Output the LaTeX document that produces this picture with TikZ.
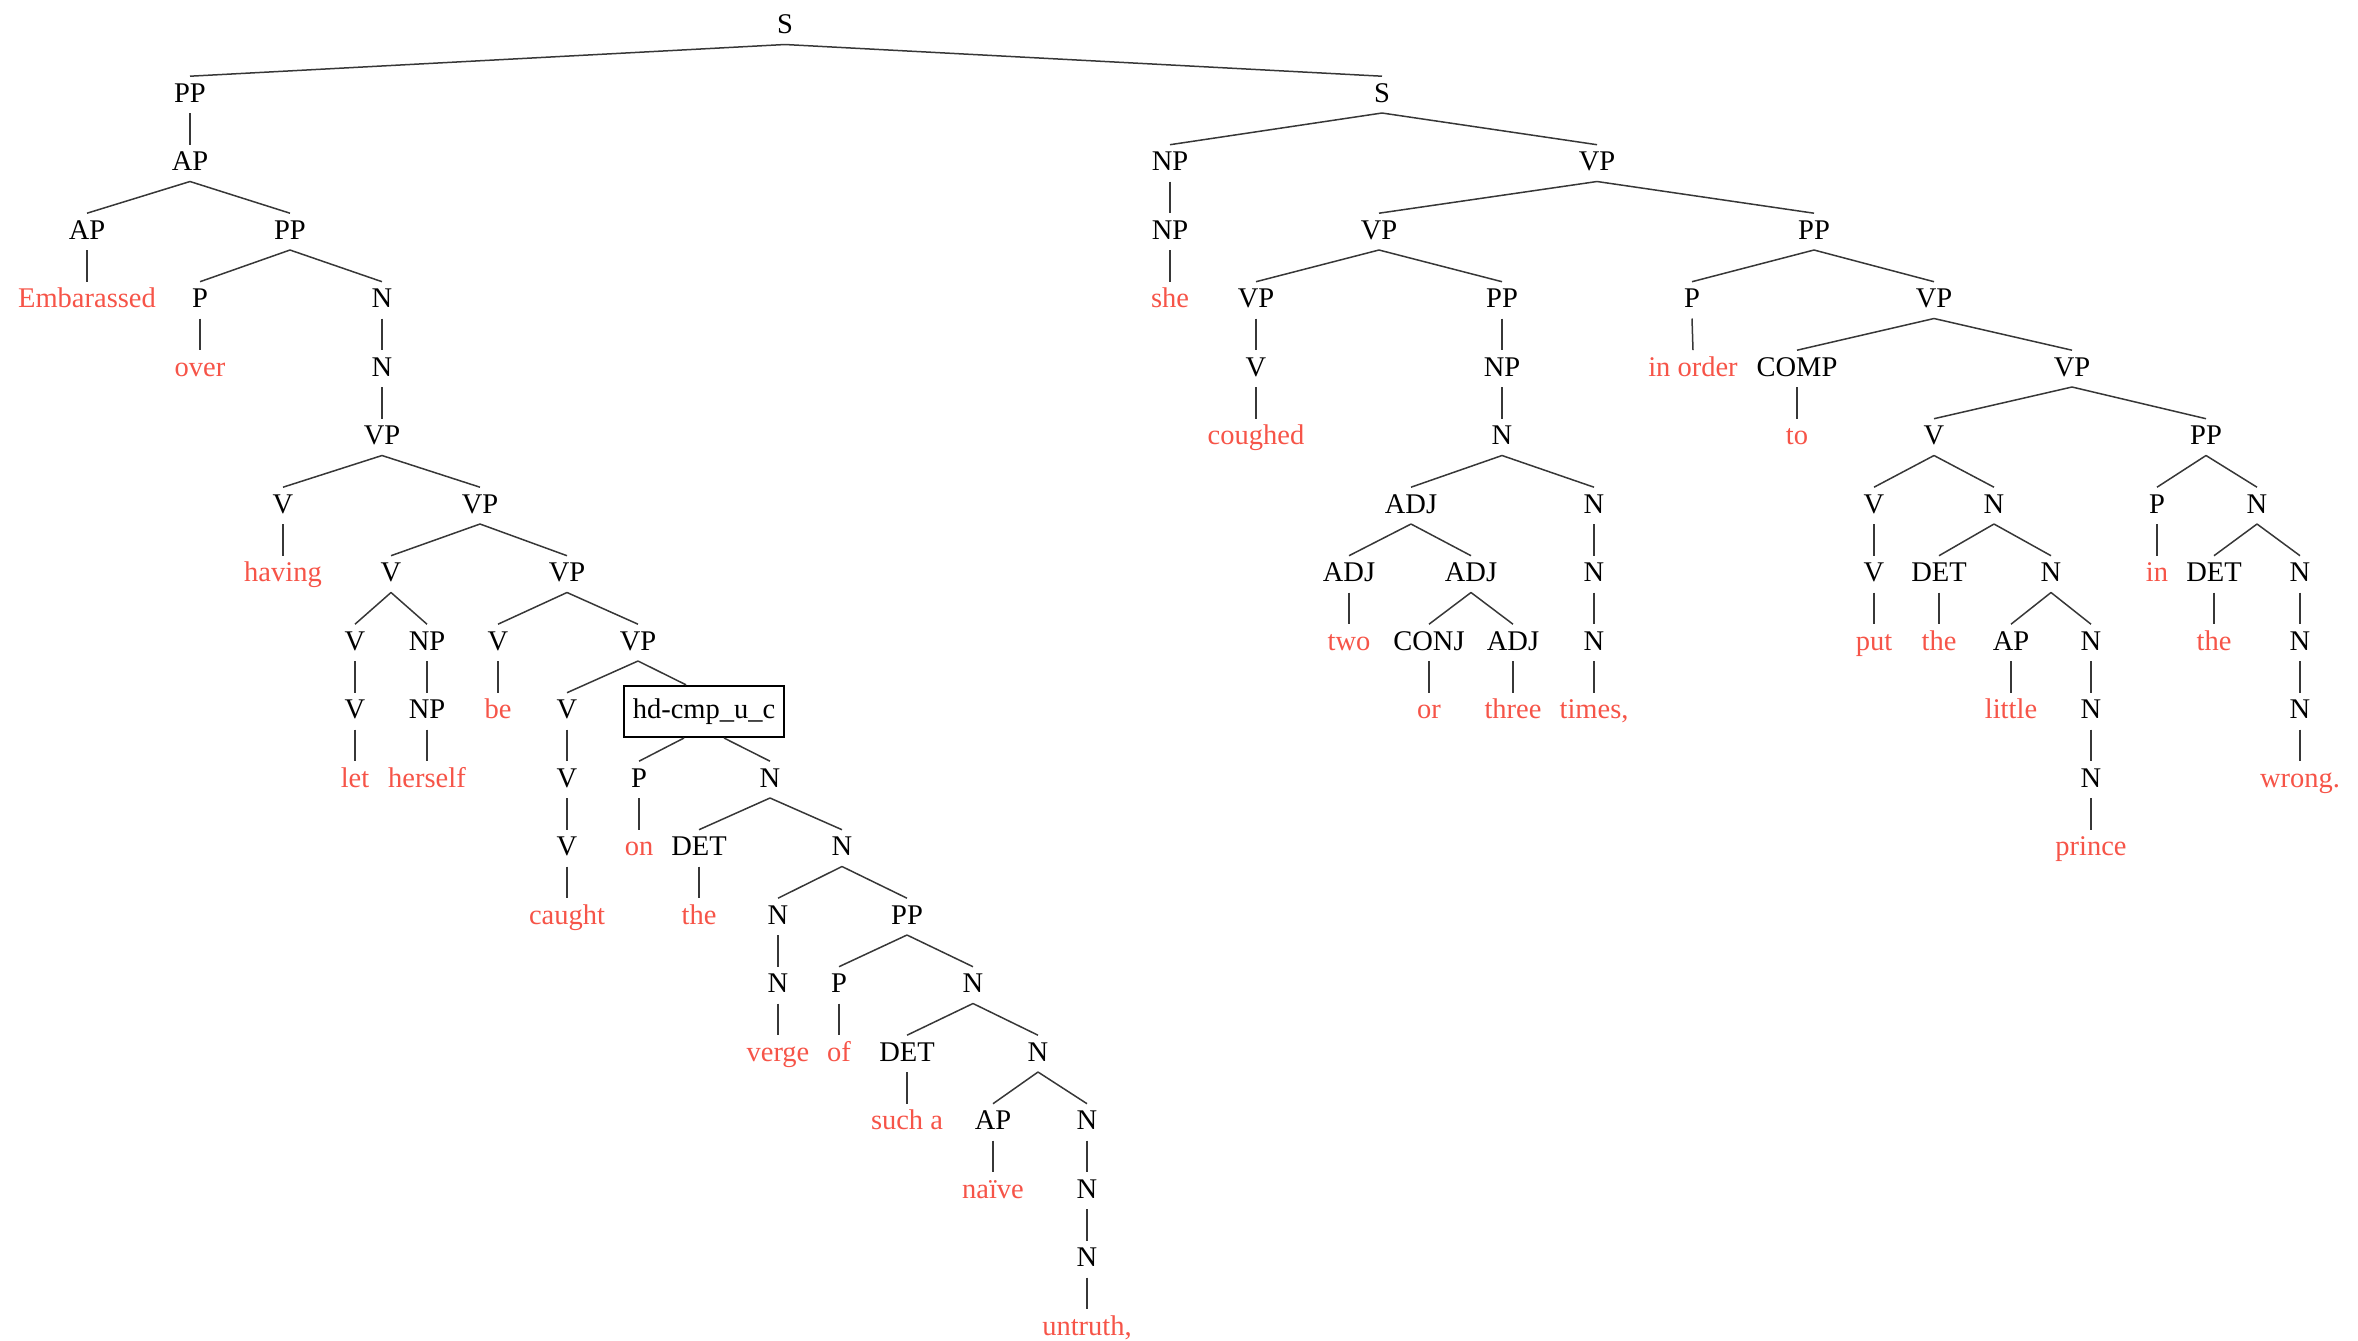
\documentclass[tikz,border=0pt]{standalone}
\usepackage{fontspec}
\usetikzlibrary{calc}
\setmainfont{Liberation Serif}
\definecolor{wordred}{RGB}{246,84,72}
\definecolor{edgegray}{RGB}{55,55,55}
\tikzset{
  cat/.style={anchor=base, inner xsep=1pt, inner ysep=3.3pt, text height=9.4pt, text depth=2pt, font=\fontsize{14.25}{17}\selectfont},
  word/.style={cat, text=wordred},
  rulebox/.style={cat, draw, line width=1.1pt, inner xsep=4.5pt, inner ysep=6.3pt, text height=10pt, text depth=2.9pt},
  branch/.style={draw=edgegray, line width=0.75pt}
}
\begin{document}
\begin{tikzpicture}[x=0.5pt, y=-34.25pt]
  \useasboundingbox (0,0) rectangle (2358,19.562);
  \begin{scope}[yshift=-16.75pt]
    % root
    \node [cat] (s) at (785,0) {S};
    % left part
    \node [cat] (pp) at (190,1) {PP};
    \node [cat] (ap) at (190,2) {AP};
    \node [cat] (apa) at (87,3) {AP};
    \node [word] (emb) at (87,4) {Embarassed};
    \node [cat] (ppa) at (290,3) {PP};
    \node [cat] (pa) at (200,4) {P};
    \node [word] (over) at (200,5) {over};
    \node [cat] (na) at (382,4) {N};
    \node [cat] (nb) at (382,5) {N};
    \node [cat] (vpa) at (382,6) {VP};
    \node [cat] (va) at (283,7) {V};
    \node [word] (having) at (283,8) {having};
    \node [cat] (vpb) at (480,7) {VP};
    \node [cat] (vb) at (391,8) {V};
    \node [cat] (vc) at (355,9) {V};
    \node [cat] (vd) at (355,10) {V};
    \node [word] (let) at (355,11) {let};
    \node [cat] (npa) at (427,9) {NP};
    \node [cat] (npb) at (427,10) {NP};
    \node [word] (herself) at (427,11) {herself};
    \node [cat] (vpc) at (567,8) {VP};
    \node [cat] (ve) at (498,9) {V};
    \node [word] (be) at (498,10) {be};
    \node [cat] (vpd) at (638,9) {VP};
    \node [cat] (vf) at (567,10) {V};
    \node [cat] (vg) at (567,11) {V};
    \node [cat] (vh) at (567,12) {V};
    \node [word] (caught) at (567,13) {caught};
    \node [rulebox] (hd) at (704,10) {hd-cmp\_u\_c};
    \node [cat] (pb) at (639,11) {P};
    \node [word] (on) at (639,12) {on};
    \node [cat] (nc) at (770,11) {N};
    \node [cat] (deta) at (699,12) {DET};
    \node [word] (thea) at (699,13) {the};
    \node [cat] (nd) at (842,12) {N};
    \node [cat] (ne) at (778,13) {N};
    \node [cat] (nf) at (778,14) {N};
    \node [word] (verge) at (778,15) {verge};
    \node [cat] (ppb) at (907,13) {PP};
    \node [cat] (pc) at (839,14) {P};
    \node [word] (of) at (839,15) {of};
    \node [cat] (ng) at (973,14) {N};
    \node [cat] (detb) at (907,15) {DET};
    \node [word] (sucha) at (907,16) {such a};
    \node [cat] (nh) at (1038,15) {N};
    \node [cat] (apb) at (993,16) {AP};
    \node [word] (naive) at (993,17) {naïve};
    \node [cat] (ni) at (1087,16) {N};
    \node [cat] (nj) at (1087,17) {N};
    \node [cat] (nk) at (1087,18) {N};
    \node [word] (untruth) at (1087,19) {untruth,};
    % right part
    \node [cat] (ss) at (1382,1) {S};
    \node [cat] (npc) at (1170,2) {NP};
    \node [cat] (npd) at (1170,3) {NP};
    \node [word] (she) at (1170,4) {she};
    \node [cat] (vpe) at (1597,2) {VP};
    \node [cat] (vpf) at (1379,3) {VP};
    \node [cat] (vpg) at (1256,4) {VP};
    \node [cat] (vi) at (1256,5) {V};
    \node [word] (coughed) at (1256,6) {coughed};
    \node [cat] (ppc) at (1502,4) {PP};
    \node [cat] (npe) at (1502,5) {NP};
    \node [cat] (nl) at (1502,6) {N};
    \node [cat] (adja) at (1411,7) {ADJ};
    \node [cat] (adjb) at (1349,8) {ADJ};
    \node [word] (two) at (1349,9) {two};
    \node [cat] (adjc) at (1471,8) {ADJ};
    \node [cat] (conj) at (1429,9) {CONJ};
    \node [word] (or) at (1429,10) {or};
    \node [cat] (adjd) at (1513,9) {ADJ};
    \node [word] (three) at (1513,10) {three};
    \node [cat] (nm) at (1594,7) {N};
    \node [cat] (nn) at (1594,8) {N};
    \node [cat] (no) at (1594,9) {N};
    \node [word] (times) at (1594,10) {times,};
    \node [cat] (ppd) at (1814,3) {PP};
    \node [cat] (pd) at (1692,4) {P};
    \node [word] (inorder) at (1693,5) {in order};
    \node [cat] (vph) at (1934,4) {VP};
    \node [cat] (comp) at (1797,5) {COMP};
    \node [word] (to) at (1797,6) {to};
    \node [cat] (vpi) at (2072,5) {VP};
    \node [cat] (vj) at (1934,6) {V};
    \node [cat] (vk) at (1874,7) {V};
    \node [cat] (vl) at (1874,8) {V};
    \node [word] (put) at (1874,9) {put};
    \node [cat] (nq) at (1994,7) {N};
    \node [cat] (detc) at (1939,8) {DET};
    \node [word] (thec) at (1939,9) {the};
    \node [cat] (nr) at (2051,8) {N};
    \node [cat] (apc) at (2011,9) {AP};
    \node [word] (little) at (2011,10) {little};
    \node [cat] (ns) at (2091,9) {N};
    \node [cat] (nt) at (2091,10) {N};
    \node [cat] (nu) at (2091,11) {N};
    \node [word] (prince) at (2091,12) {prince};
    \node [cat] (ppe) at (2206,6) {PP};
    \node [cat] (pe) at (2157,7) {P};
    \node [word] (in) at (2157,8) {in};
    \node [cat] (nv) at (2257,7) {N};
    \node [cat] (detd) at (2214,8) {DET};
    \node [word] (thed) at (2214,9) {the};
    \node [cat] (nw) at (2300,8) {N};
    \node [cat] (nx) at (2300,9) {N};
    \node [cat] (ny) at (2300,10) {N};
    \node [word] (wrong) at (2300,11) {wrong.};

    % branches, left part
    \draw [branch] (s.south) -- (pp.north) (s.south) -- (ss.north);
    \draw [branch] (pp.south) -- (ap.north);
    \draw [branch] (ap.south) -- (apa.north) (ap.south) -- (ppa.north);
    \draw [branch] (apa.south) -- (emb.north);
    \draw [branch] (ppa.south) -- (pa.north) (ppa.south) -- (na.north);
    \draw [branch] (pa.south) -- (over.north);
    \draw [branch] (na.south) -- (nb.north);
    \draw [branch] (nb.south) -- (vpa.north);
    \draw [branch] (vpa.south) -- (va.north) (vpa.south) -- (vpb.north);
    \draw [branch] (va.south) -- (having.north);
    \draw [branch] (vpb.south) -- (vb.north) (vpb.south) -- (vpc.north);
    \draw [branch] (vb.south) -- (vc.north) (vb.south) -- (npa.north);
    \draw [branch] (vc.south) -- (vd.north);
    \draw [branch] (vd.south) -- (let.north);
    \draw [branch] (npa.south) -- (npb.north);
    \draw [branch] (npb.south) -- (herself.north);
    \draw [branch] (vpc.south) -- (ve.north) (vpc.south) -- (vpd.north);
    \draw [branch] (ve.south) -- (be.north);
    \draw [branch] (vpd.south) -- (vf.north) (vpd.south) -- ($(hd.north)+(-18,0)$);
    \draw [branch] (vf.south) -- (vg.north);
    \draw [branch] (vg.south) -- (vh.north);
    \draw [branch] (vh.south) -- (caught.north);
    \draw [branch] ($(hd.south)+(-20,0)$) -- (pb.north) ($(hd.south)+(20,0)$) -- (nc.north);
    \draw [branch] (pb.south) -- (on.north);
    \draw [branch] (nc.south) -- (deta.north) (nc.south) -- (nd.north);
    \draw [branch] (deta.south) -- (thea.north);
    \draw [branch] (nd.south) -- (ne.north) (nd.south) -- (ppb.north);
    \draw [branch] (ne.south) -- (nf.north);
    \draw [branch] (nf.south) -- (verge.north);
    \draw [branch] (ppb.south) -- (pc.north) (ppb.south) -- (ng.north);
    \draw [branch] (pc.south) -- (of.north);
    \draw [branch] (ng.south) -- (detb.north) (ng.south) -- (nh.north);
    \draw [branch] (detb.south) -- (sucha.north);
    \draw [branch] (nh.south) -- (apb.north) (nh.south) -- (ni.north);
    \draw [branch] (apb.south) -- (naive.north);
    \draw [branch] (ni.south) -- (nj.north);
    \draw [branch] (nj.south) -- (nk.north);
    \draw [branch] (nk.south) -- (untruth.north);

    % branches, right part
    \draw [branch] (ss.south) -- (npc.north) (ss.south) -- (vpe.north);
    \draw [branch] (npc.south) -- (npd.north);
    \draw [branch] (npd.south) -- (she.north);
    \draw [branch] (vpe.south) -- (vpf.north) (vpe.south) -- (ppd.north);
    \draw [branch] (vpf.south) -- (vpg.north) (vpf.south) -- (ppc.north);
    \draw [branch] (vpg.south) -- (vi.north);
    \draw [branch] (vi.south) -- (coughed.north);
    \draw [branch] (ppc.south) -- (npe.north);
    \draw [branch] (npe.south) -- (nl.north);
    \draw [branch] (nl.south) -- (adja.north) (nl.south) -- (nm.north);
    \draw [branch] (adja.south) -- (adjb.north) (adja.south) -- (adjc.north);
    \draw [branch] (adjb.south) -- (two.north);
    \draw [branch] (adjc.south) -- (conj.north) (adjc.south) -- (adjd.north);
    \draw [branch] (conj.south) -- (or.north);
    \draw [branch] (adjd.south) -- (three.north);
    \draw [branch] (nm.south) -- (nn.north);
    \draw [branch] (nn.south) -- (no.north);
    \draw [branch] (no.south) -- (times.north);
    \draw [branch] (ppd.south) -- (pd.north) (ppd.south) -- (vph.north);
    \draw [branch] (pd.south) -- (inorder.north);
    \draw [branch] (vph.south) -- (comp.north) (vph.south) -- (vpi.north);
    \draw [branch] (comp.south) -- (to.north);
    \draw [branch] (vpi.south) -- (vj.north) (vpi.south) -- (ppe.north);
    \draw [branch] (vj.south) -- (vk.north) (vj.south) -- (nq.north);
    \draw [branch] (vk.south) -- (vl.north);
    \draw [branch] (vl.south) -- (put.north);
    \draw [branch] (nq.south) -- (detc.north) (nq.south) -- (nr.north);
    \draw [branch] (detc.south) -- (thec.north);
    \draw [branch] (nr.south) -- (apc.north) (nr.south) -- (ns.north);
    \draw [branch] (apc.south) -- (little.north);
    \draw [branch] (ns.south) -- (nt.north);
    \draw [branch] (nt.south) -- (nu.north);
    \draw [branch] (nu.south) -- (prince.north);
    \draw [branch] (ppe.south) -- (pe.north) (ppe.south) -- (nv.north);
    \draw [branch] (pe.south) -- (in.north);
    \draw [branch] (nv.south) -- (detd.north) (nv.south) -- (nw.north);
    \draw [branch] (detd.south) -- (thed.north);
    \draw [branch] (nw.south) -- (nx.north);
    \draw [branch] (nx.south) -- (ny.north);
    \draw [branch] (ny.south) -- (wrong.north);
  \end{scope}
\end{tikzpicture}
\end{document}
